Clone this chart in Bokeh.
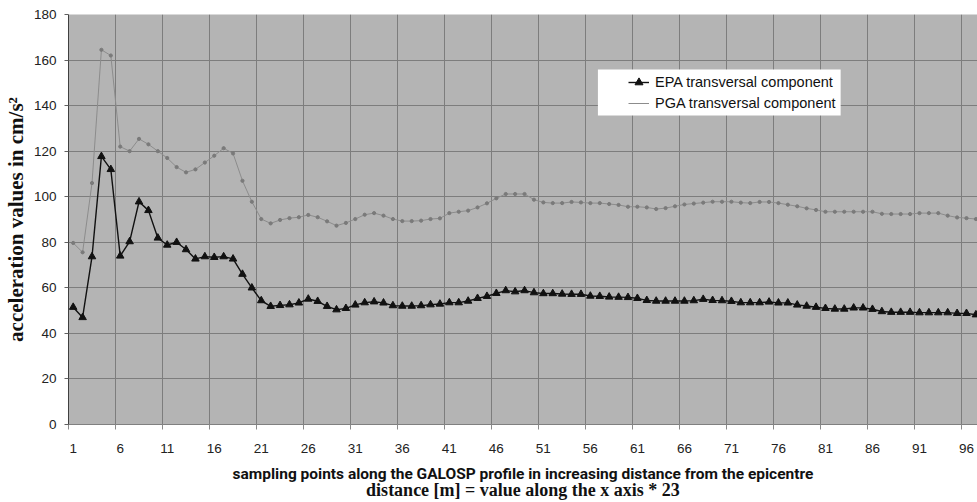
from bokeh.plotting import figure
from bokeh.models import (Range1d, FixedTicker, Legend, LegendItem, LinearAxis,
                          BoxAnnotation, ColumnDataSource)
from bokeh.embed import file_html
from bokeh.resources import INLINE

# ---------------- data ----------------
points = list(range(1, 98))

epa = [51.5, 47.0, 73.7, 117.7, 112.0, 74.0, 80.3, 97.8, 94.0, 81.9,
       78.8, 80.0, 76.8, 72.7, 73.7, 73.4, 73.7, 72.7, 66.0, 60.0,
       54.4, 51.9, 52.3, 52.6, 53.4, 55.1, 54.1, 51.9, 50.4, 51.0,
       52.5, 53.5, 53.9, 53.4, 52.2, 52.0, 52.0, 52.2, 52.6, 52.9,
       53.5, 53.5, 54.2, 55.4, 56.3, 57.6, 58.8, 58.3, 58.8, 57.9,
       57.5, 57.5, 57.3, 57.2, 57.2, 56.4, 56.3, 56.0, 55.9, 55.8,
       55.4, 54.5, 54.2, 54.2, 54.2, 54.2, 54.4, 55.0, 54.5, 54.4,
       54.1, 53.5, 53.5, 53.5, 53.8, 53.4, 53.4, 52.5, 52.0, 51.5,
       51.0, 50.7, 50.7, 51.2, 51.2, 50.6, 49.6, 49.3, 49.3, 49.3,
       49.1, 49.1, 49.1, 49.1, 48.8, 48.8, 48.2]

pga = [79.7, 75.6, 106.0, 164.5, 162.0, 122.0, 120.0, 125.4, 123.0, 120.0,
       117.0, 113.0, 110.7, 112.0, 115.0, 118.0, 121.3, 119.0, 107.0, 97.8,
       90.2, 88.3, 89.8, 90.6, 91.0, 92.0, 91.0, 89.2, 87.3, 88.5,
       90.2, 92.1, 92.8, 91.7, 90.2, 89.3, 89.3, 89.5, 90.2, 90.5,
       92.8, 93.4, 93.9, 95.3, 97.1, 99.3, 101.2, 101.2, 101.2, 98.7,
       97.5, 97.2, 97.2, 97.7, 97.5, 97.2, 97.2, 96.8, 96.4, 95.6,
       95.6, 95.3, 94.6, 95.0, 95.8, 96.6, 97.0, 97.4, 97.8, 97.8,
       97.8, 97.4, 97.2, 97.7, 97.7, 97.2, 96.5, 95.8, 94.9, 94.2,
       93.4, 93.4, 93.4, 93.4, 93.4, 93.4, 92.5, 92.4, 92.4, 92.4,
       92.8, 92.8, 92.8, 91.7, 90.9, 90.6, 90.2]

tick_positions = list(range(1, 97, 5))
tick_labels = ["1", "6", "11", "16", "21", "26", "31", "36", "41", "46",
               "51", "56", "61", "66", "71", "76", "81", "86", "91", "96"]
y_ticks = [0, 20, 40, 60, 80, 100, 120, 140, 160, 180]

series_names = ["EPA transversal component", "PGA transversal component"]
y_title = "acceleration values in cm/s\u00b2"
x_title_1 = "sampling points along the GALOSP profile in increasing distance from the epicentre"
x_title_2 = "distance [m] = value along the x axis * 23"

# ---------------- layout constants ----------------
W, H = 977, 502
B_LEFT, B_RIGHT, B_TOP, B_BOTTOM = 67, 0, 14, 78
frame_w = W - B_LEFT - B_RIGHT
frame_h = H - B_TOP - B_BOTTOM
x_start, x_end = 0.5, 97.17
y_start, y_end = 0, 180
px_per_x = frame_w / (x_end - x_start)
px_per_y = frame_h / (y_end - y_start)

GRID = "#7d7d7d"

p = figure(width=W, height=H, output_backend="svg", toolbar_location=None,
           x_range=Range1d(x_start, x_end), y_range=Range1d(y_start, y_end),
           min_border_left=B_LEFT, min_border_right=B_RIGHT,
           min_border_top=B_TOP, min_border_bottom=B_BOTTOM)
p.background_fill_color = "#b4b4b4"
p.border_fill_color = "white"
p.outline_line_color = None

# x axis: labels at category centres, ticks/grid at category boundaries
xa = p.xaxis[0]
xa.ticker = FixedTicker(ticks=tick_positions, minor_ticks=[t - 0.5 for t in tick_positions])
xa.major_label_overrides = {t: l for t, l in zip(tick_positions, tick_labels)}
xa.major_tick_line_color = None
xa.major_tick_out = 0
xa.major_tick_in = 0
xa.minor_tick_line_color = "#8a8a8a"
xa.minor_tick_out = 5
xa.minor_tick_in = 0
xa.axis_line_color = "#808080"
xa.major_label_standoff = 14
xa.major_label_text_font = "Liberation Sans"
xa.major_label_text_font_size = "13.5px"
xa.major_label_text_color = "#222222"
xa.axis_label = x_title_1
xa.axis_label_text_font = "Roboto"
xa.axis_label_text_font_style = "bold"
xa.axis_label_text_font_size = "15.5px"
xa.axis_label_text_color = "#111111"
xa.axis_label_standoff = 9

# second line of the x title, as a label-only axis below the first
xa2 = LinearAxis(ticker=FixedTicker(ticks=[]), axis_line_color=None,
                 major_tick_line_color=None, minor_tick_line_color=None,
                 major_tick_out=0, major_tick_in=0, minor_tick_out=0, minor_tick_in=0,
                 major_label_text_font_size="0px", major_label_standoff=0,
                 axis_label=x_title_2, axis_label_standoff=-6,
                 axis_label_text_font="Liberation Serif", axis_label_text_font_style="bold",
                 axis_label_text_font_size="18px", axis_label_text_color="#111111")
p.add_layout(xa2, "below")

p.xgrid.ticker = FixedTicker(ticks=[t - 0.5 for t in tick_positions])
p.xgrid.grid_line_color = GRID
p.xgrid.grid_line_width = 1

ya = p.yaxis[0]
ya.ticker = FixedTicker(ticks=y_ticks)
ya.minor_tick_line_color = None
ya.major_tick_out = 4
ya.major_tick_in = 0
ya.major_tick_line_color = "#606060"
ya.axis_line_color = "#404040"
ya.major_label_standoff = 8
ya.major_label_text_font = "Liberation Sans"
ya.major_label_text_font_size = "13.5px"
ya.major_label_text_color = "#222222"
ya.axis_label = y_title
ya.axis_label_text_font = "Liberation Serif"
ya.axis_label_text_font_style = "bold"
ya.axis_label_text_font_size = "21px"
ya.axis_label_text_color = "#111111"
ya.axis_label_standoff = 3

p.ygrid.grid_line_color = GRID
p.ygrid.grid_line_width = 1

# ---------------- series ----------------
src = ColumnDataSource(dict(point=points, epa=epa, pga=pga))
r_pga_line = p.line("point", "pga", source=src, line_color="#8c8c8c", line_width=1)
r_pga_pts = p.scatter("point", "pga", source=src, marker="circle", size=3.2,
                      fill_color="#7a7a7a", line_color="#7a7a7a")
r_epa_line = p.line("point", "epa", source=src, line_color="#111111", line_width=1.4)
r_epa_pts = p.scatter("point", "epa", source=src, marker="triangle", size=7.5,
                      fill_color="#111111", line_color="#111111")

# ---------------- legend ----------------
lb_left, lb_right, lb_bottom, lb_top = 530, 773, 309, 355
box = BoxAnnotation(left=x_start + lb_left / px_per_x, right=x_start + lb_right / px_per_x,
                    bottom=y_start + lb_bottom / px_per_y, top=y_start + lb_top / px_per_y,
                    fill_color="white", fill_alpha=1.0, line_color=None)
p.add_layout(box)

legend = Legend(items=[LegendItem(label=series_names[0], renderers=[r_epa_line, r_epa_pts]),
                       LegendItem(label=series_names[1], renderers=[r_pga_line])],
                location=(560, 311), background_fill_alpha=0, border_line_color=None,
                padding=0, margin=0, spacing=1, glyph_width=21, glyph_height=20,
                label_height=20, label_standoff=6, label_text_font="Liberation Sans",
                label_text_font_size="14.5px", label_text_color="#111111")
p.add_layout(legend)

open("out.html", "w").write(file_html(p, INLINE))
